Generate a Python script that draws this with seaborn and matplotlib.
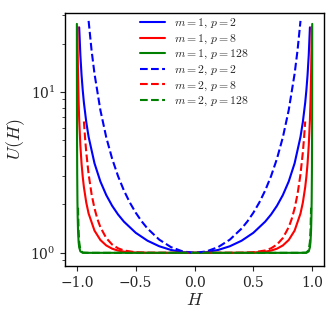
import numpy as np
import pandas as pd
import matplotlib
matplotlib.use("Agg")
import matplotlib.pyplot as plt
import seaborn as sns

# values (right half, H >= 0; the curves are symmetric in H)
H_m1_p2 = [0.0, 0.1, 0.2, 0.3, 0.4, 0.5, 0.6, 0.65, 0.7, 0.75, 0.8, 0.85, 0.9, 0.92, 0.94, 0.95, 0.96, 0.97, 0.98]
U_m1_p2 = [1.0, 1.010, 1.042, 1.099, 1.190, 1.333, 1.563, 1.732, 1.961, 2.286, 2.778, 3.604, 5.263, 6.510, 8.591, 10.26, 12.76, 16.92, 25.25]

H_m1_p8 = [0.0, 0.2, 0.3, 0.4, 0.5, 0.6, 0.65, 0.7, 0.75, 0.8, 0.85, 0.9, 0.92, 0.94, 0.95, 0.96, 0.97, 0.98, 0.985, 0.99, 0.993, 0.995]
U_m1_p8 = [1.0, 1.0, 1.0001, 1.0007, 1.0039, 1.0171, 1.0329, 1.0612, 1.1113, 1.2017, 1.3746, 1.7557, 2.0543, 2.5612, 2.9711, 3.5892, 4.6241, 6.7007, 8.7808, 12.943, 18.30, 25.44]

H_m1_p128 = [0.0, 0.5, 0.9, 0.95, 0.97, 0.98, 0.985, 0.99, 0.993, 0.995, 0.997, 0.998, 0.999, 0.9995, 0.9997]
U_m1_p128 = [1.0, 1.0, 1.0, 1.0014, 1.0207, 1.0815, 1.1689, 1.3817, 1.6862, 2.1116, 3.1325, 4.4238, 8.3195, 16.127, 26.54]

H_m2_p2 = [0.0, 0.1, 0.2, 0.3, 0.4, 0.45, 0.5, 0.55, 0.6, 0.65, 0.7, 0.75, 0.8, 0.85, 0.875, 0.9]
U_m2_p2 = [1.0, 1.020, 1.085, 1.208, 1.417, 1.572, 1.778, 2.055, 2.441, 3.000, 3.845, 5.224, 7.716, 12.99, 18.20, 27.70]

H_m2_p8 = [0.0, 0.3, 0.4, 0.5, 0.6, 0.65, 0.7, 0.75, 0.8, 0.825, 0.85, 0.875, 0.9, 0.92, 0.93, 0.94]
U_m2_p8 = [1.0, 1.0001, 1.0013, 1.0078, 1.0345, 1.0669, 1.1261, 1.2350, 1.4441, 1.6211, 1.8895, 2.321, 3.0825, 4.2201, 5.1555, 6.5597]

H_m2_p128 = [0.0, 0.5, 0.9, 0.95, 0.97, 0.98, 0.985, 0.99]
U_m2_p128 = [1.0, 1.0, 1.0, 1.0028, 1.0419, 1.1697, 1.3663, 1.9091]

labels = [r"$m=1,\, p=2$", r"$m=1,\, p=8$", r"$m=1,\, p=128$",
          r"$m=2,\, p=2$", r"$m=2,\, p=8$", r"$m=2,\, p=128$"]
series = [(H_m1_p2, U_m1_p2), (H_m1_p8, U_m1_p8), (H_m1_p128, U_m1_p128),
          (H_m2_p2, U_m2_p2), (H_m2_p8, U_m2_p8), (H_m2_p128, U_m2_p128)]
colors = ["blue", "red", "green", "blue", "red", "green"]
styles = ["-", "-", "-", "--", "--", "--"]

sns.set_style("ticks")
plt.rcParams["font.family"] = ["DejaVu Serif"]
plt.rcParams["mathtext.fontset"] = "cm"

fig = plt.figure(figsize=(3.32, 3.18), dpi=100)
ax = fig.add_axes([0.196, 0.164, 0.780, 0.795])

for (h, u), lab, c, ls in zip(series, labels, colors, styles):
    h = np.asarray(h)
    u = np.asarray(u)
    hh = np.concatenate([-h[::-1], h[1:]])
    uu = np.concatenate([u[::-1], u[1:]])
    df = pd.DataFrame({"H": hh, "U": uu})
    sns.lineplot(data=df, x="H", y="U", ax=ax, color=c, linestyle=ls,
                 linewidth=1.5, label=lab, sort=True, estimator=None)

ax.set_yscale("log")
ax.set_xlim(-1.1, 1.1)
ax.set_ylim(0.83, 31)
ax.set_xticks([-1.0, -0.5, 0.0, 0.5, 1.0])
ax.set_xlabel(r"$H$", fontsize=13, labelpad=1)
ax.set_ylabel(r"$U(H)$", fontsize=13, labelpad=2)
ax.tick_params(axis="both", which="major", labelsize=10, length=3.5, width=0.8)
ax.tick_params(axis="both", which="minor", length=2, width=0.6)
for s in ax.spines.values():
    s.set_visible(True)
    s.set_color("black")
    s.set_linewidth(1.0)

leg = ax.legend(loc="upper center", bbox_to_anchor=(0.5, 1.03), frameon=False,
                fontsize=8.5, handlelength=2.1, labelspacing=0.12, handletextpad=0.8)

fig.savefig("out.png", dpi=100)
